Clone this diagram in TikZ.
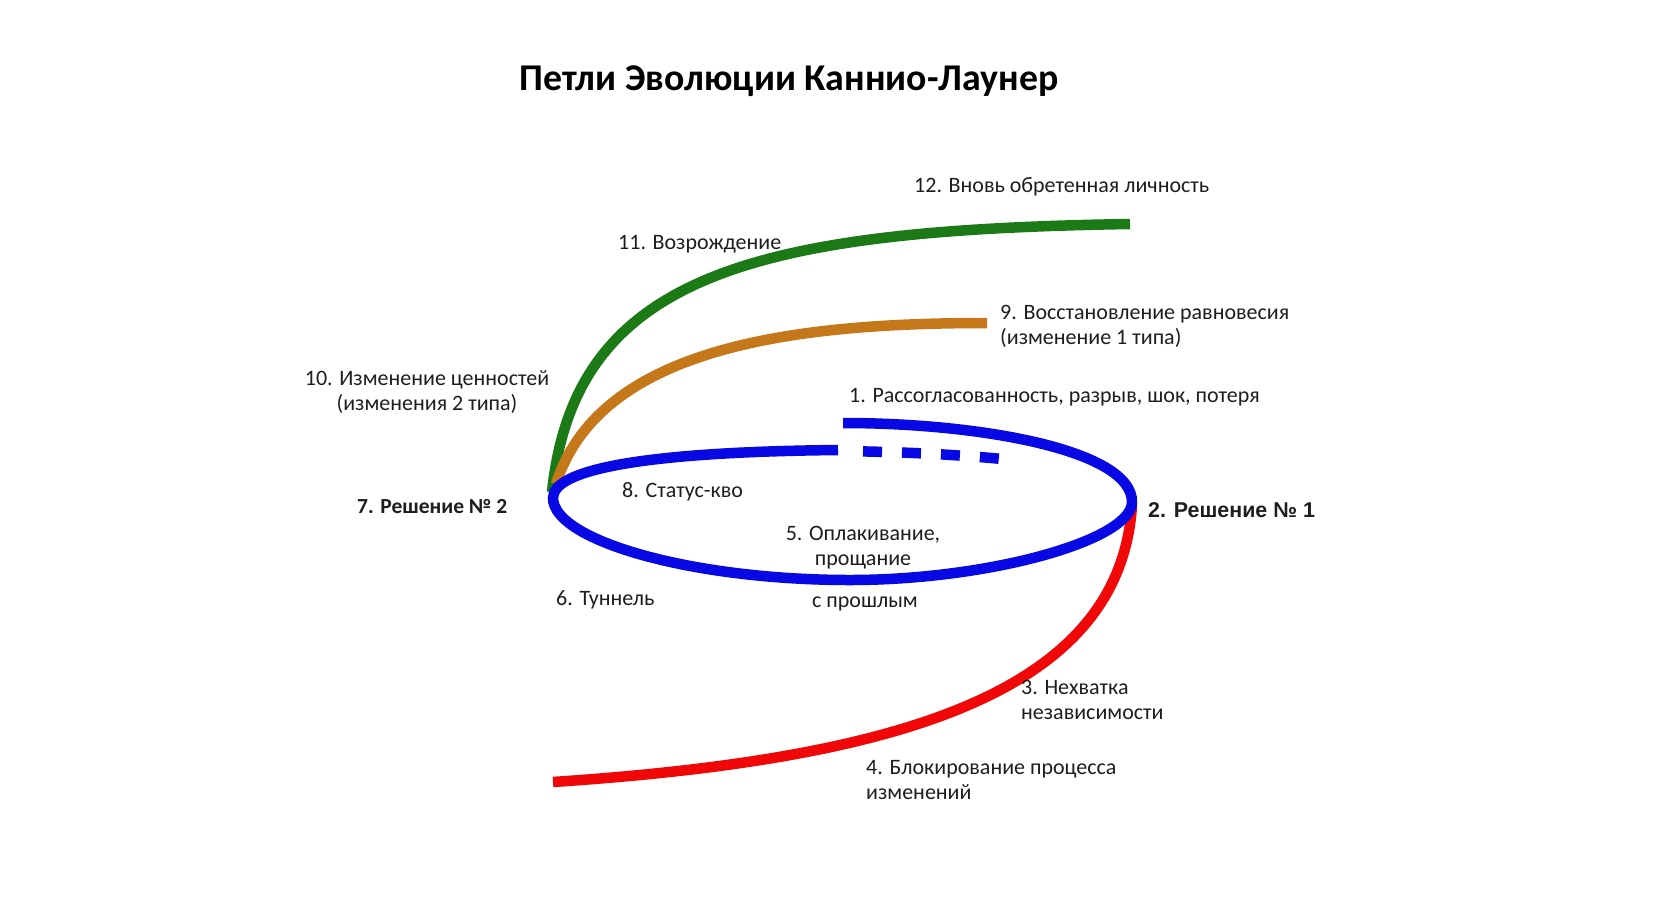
\documentclass[tikz,border=0pt]{standalone}
\usepackage{fontspec}
\setmainfont{Carlito}
\newfontfamily\arialfont{Liberation Sans}
\definecolor{cblue}{RGB}{8,8,228}
\definecolor{cred}{RGB}{240,8,8}
\definecolor{cgreen}{RGB}{28,122,22}
\definecolor{corange}{RGB}{196,120,26}
\definecolor{ctext}{RGB}{30,30,30}
\begin{document}
\begin{tikzpicture}[x=1pt,y={(0pt,-1pt)},
  curve/.style={line width=10.5pt,line cap=butt},
  lbl/.style={inner sep=0pt,text=ctext,font=\fontsize{22}{25}\selectfont},
  lblL/.style={lbl,anchor=base west,align=left},
  lblC/.style={lbl,anchor=base,align=center},
  boldlbl/.style={inner sep=0pt,text=ctext,anchor=base west,font=\bfseries\fontsize{21.5}{25}\selectfont},
  ]
\useasboundingbox (0,0) rectangle (1680,900);
\fill[white] (0,0) rectangle (1680,900);

% title
\node[inner sep=0pt,anchor=base,text=black,font=\bfseries\fontsize{37.8}{42}\selectfont] (title) at (789,90) {Петли Эволюции Каннио-Лаунер};

% key points
\coordinate (L) at (553,498);
\coordinate (R) at (1132,502);
\coordinate (B) at (850,580);
\coordinate (top) at (838,450);
\coordinate (outer) at (843,423);
\coordinate (d0) at (843,451);
\coordinate (d1) at (1002,459);
\coordinate (redS) at (1132,505);
\coordinate (redE) at (553,782);
\coordinate (grS) at (552,492);
\coordinate (grE) at (1130,224);
\coordinate (orS) at (556,484);
\coordinate (orE) at (987,323);

% red
\draw[curve,cred] (redS) .. controls (1120,700) and (880,760) .. (redE);
% green
\draw[curve,cgreen] (grS) .. controls (575,272) and (760,230) .. (grE);
% orange
\draw[curve,corange] (orS) .. controls (600,345) and (800,323) .. (orE);
% blue spiral
\draw[curve,cblue] (outer) .. controls (980,423) and (1132,450) .. (R)
  .. controls (1132,540) and (990,580) .. (B)
  .. controls (690,580) and (553,540) .. (L)
  .. controls (553,470) and (640,452) .. (top);
\draw[curve,cblue,dash pattern=on 19pt off 20pt,dash phase=19pt] (d0) .. controls (900,452) and (950,454) .. (d1);

% labels
\node[lblL] (l12) at (914,192) {12. Вновь обретенная личность};
\node[lblL] (l11) at (618,249) {11. Возрождение};
\node[lblL] (l9) at (1000,344) {9. Восстановление равновесия\\(изменение 1 типа)};
\node[lblC] (l10) at (427,410) {10. Изменение ценностей\\(изменения 2 типа)};
\node[lblL] (l1) at (849,402) {1. Рассогласованность, разрыв, шок, потеря};
\node[boldlbl] (l7) at (357,513) {7. Решение № 2};
\node[boldlbl,font=\arialfont\bfseries\fontsize{21.4}{25}\selectfont] (l2) at (1148,517) {2. Решение № 1};
\node[lblL] (l8) at (622,497) {8. Статус-кво};
\node[lblC] (l5) at (863,565) {5. Оплакивание,\\прощание};
\node[lblC] (l5b) at (865,607) {с прошлым};
\node[lblL] (l6) at (556,605) {6. Туннель};
\node[lblL] (l3) at (1021,719) {3. Нехватка\\независимости};
\node[lblL] (l4) at (866,799) {4. Блокирование процесса\\изменений};
\end{tikzpicture}
\end{document}
